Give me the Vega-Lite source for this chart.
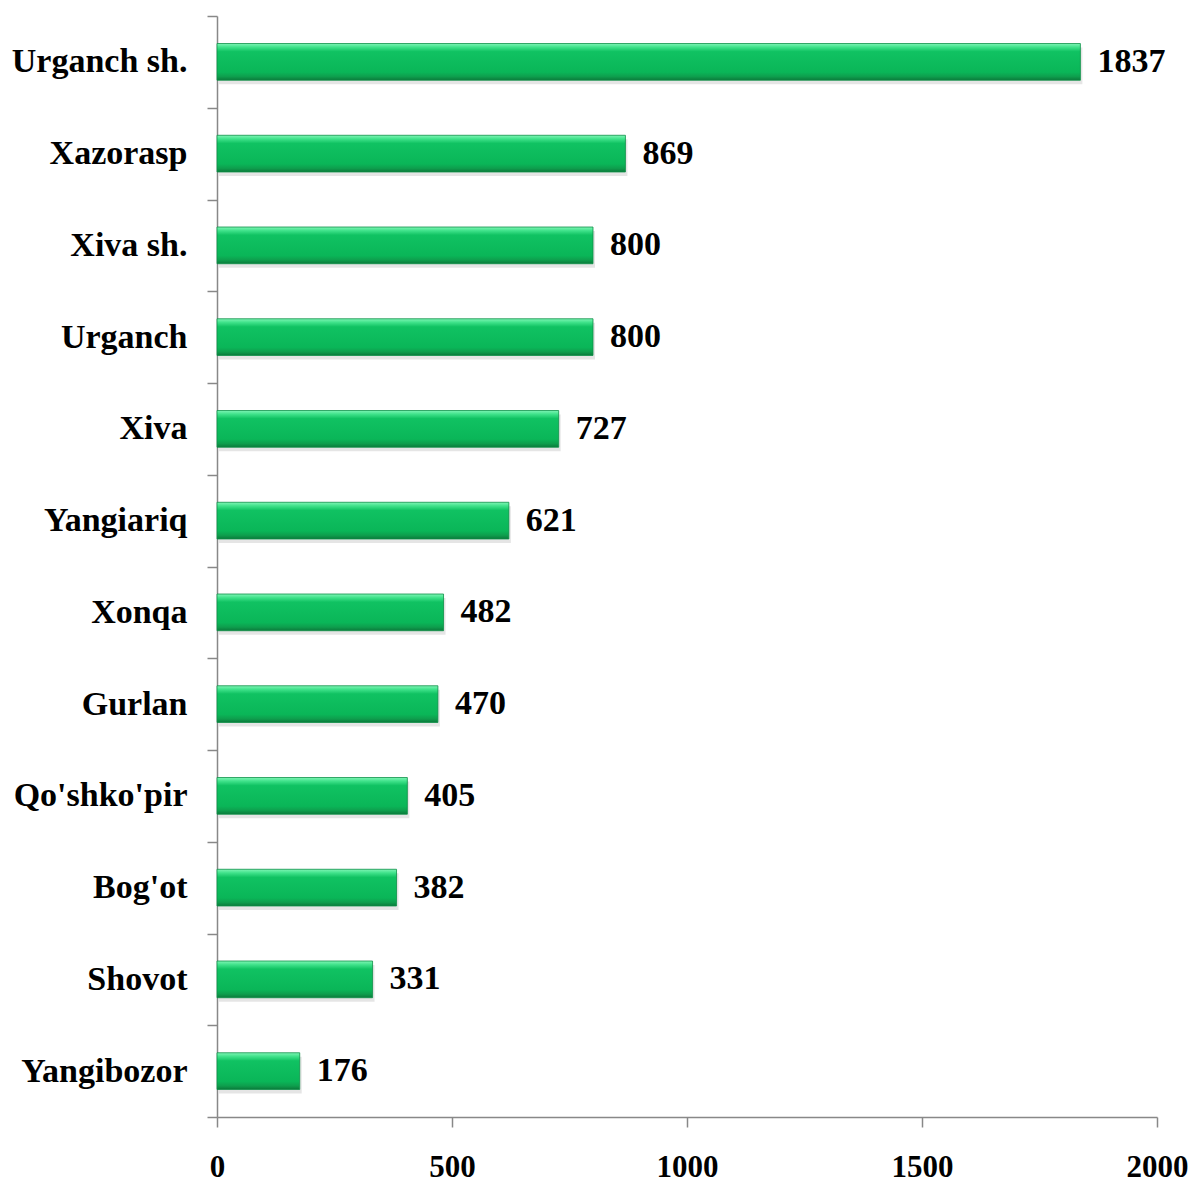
{
  "$schema": "https://vega.github.io/schema/vega-lite/v6.json",
  "autosize": "none",
  "width": 940,
  "height": 1101,
  "padding": {"left": 217, "top": 16, "right": 38, "bottom": 66},
  "background": "white",
  "data": {
    "values": [
      {"district": "Urganch sh.", "value": 1837},
      {"district": "Xazorasp", "value": 869},
      {"district": "Xiva sh.", "value": 800},
      {"district": "Urganch", "value": 800},
      {"district": "Xiva", "value": 727},
      {"district": "Yangiariq", "value": 621},
      {"district": "Xonqa", "value": 482},
      {"district": "Gurlan", "value": 470},
      {"district": "Qo'shko'pir", "value": 405},
      {"district": "Bog'ot", "value": 382},
      {"district": "Shovot", "value": 331},
      {"district": "Yangibozor", "value": 176}
    ]
  },
  "config": {
    "view": {"stroke": null},
    "axis": {
      "labelFont": "Times New Roman, Liberation Serif, serif",
      "labelFontWeight": "bold",
      "labelColor": "black",
      "domainColor": "#888888",
      "domainWidth": 1.5,
      "tickColor": "#888888",
      "tickWidth": 1.5,
      "tickSize": 10,
      "grid": false,
      "title": null
    }
  },
  "encoding": {
    "y": {
      "field": "district",
      "type": "nominal",
      "sort": null,
      "scale": {"paddingInner": 0, "paddingOuter": 0},
      "axis": {"tickBand": "extent", "labelPadding": 20, "labelFontSize": 34}
    },
    "x": {
      "field": "value",
      "type": "quantitative",
      "scale": {"domain": [0, 2000], "nice": false},
      "axis": {"values": [0, 500, 1000, 1500, 2000], "format": "d", "labelPadding": 25, "labelFontSize": 31, "labelFlush": false}
    }
  },
  "layer": [
    {
      "mark": {
        "type": "bar",
        "height": {"band": 0.4},
        "fill": "#000000",
        "opacity": 0.1,
        "xOffset": 2,
        "yOffset": 4
      }
    },
    {
      "mark": {
        "type": "bar",
        "height": {"band": 0.4},
        "fill": {
          "gradient": "linear",
          "x1": 0, "y1": 0, "x2": 0, "y2": 1,
          "stops": [
            {"offset": 0, "color": "#7ff5b5"},
            {"offset": 0.1, "color": "#3fe28a"},
            {"offset": 0.22, "color": "#10c262"},
            {"offset": 0.78, "color": "#0ab658"},
            {"offset": 0.9, "color": "#0e9e4d"},
            {"offset": 1, "color": "#0b7a3b"}
          ]
        },
        "stroke": "#0d8f46",
        "strokeWidth": 0.8
      }
    },
    {
      "mark": {
        "type": "text",
        "align": "left",
        "baseline": "middle",
        "dx": 17,
        "font": "Times New Roman, Liberation Serif, serif",
        "fontWeight": "bold",
        "fontSize": 34,
        "color": "black"
      },
      "encoding": {"text": {"field": "value", "type": "quantitative"}}
    }
  ]
}
